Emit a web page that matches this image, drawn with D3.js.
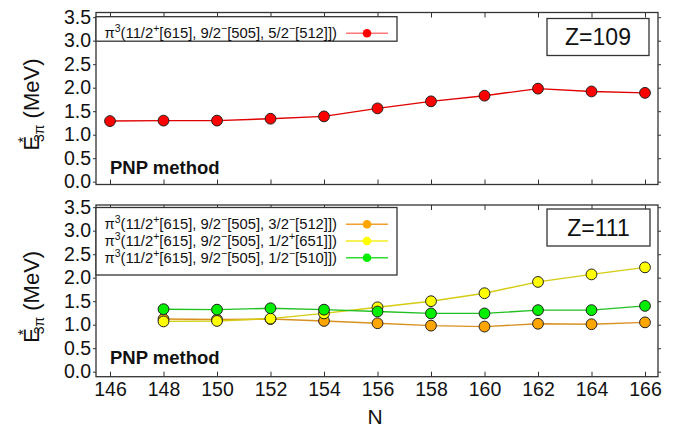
<!DOCTYPE html>
<html>
<head>
<meta charset="utf-8">
<script src="https://cdn.jsdelivr.net/npm/d3@7"></script>
<style>
  html, body { margin: 0; padding: 0; background: #fff; }
  svg { display: block; font-family: "Liberation Sans", Arial, sans-serif; }
</style>
</head>
<body>
<svg id="chart" width="692" height="429"></svg>
<script>
// Neutron numbers on the shared x axis
const neutronTicks = [146, 148, 150, 152, 154, 156, 158, 160, 162, 164, 166];
const energyTicks = [0.0, 0.5, 1.0, 1.5, 2.0, 2.5, 3.0, 3.5];

// Z = 109 three-quasiparticle configuration
const nZ109 = [146, 148, 150, 152, 154, 156, 158, 160, 162, 164, 166];
const eZ109 = [1.29, 1.30, 1.30, 1.34, 1.39, 1.56, 1.71, 1.83, 1.98, 1.92, 1.89];

// Z = 111 three-quasiparticle configurations
const nZ111 = [148, 150, 152, 154, 156, 158, 160, 162, 164, 166];
const eZ111Orange = [1.12, 1.11, 1.12, 1.08, 1.03, 0.98, 0.96, 1.02, 1.01, 1.05];
const eZ111Yellow = [1.07, 1.08, 1.13, 1.24, 1.37, 1.50, 1.67, 1.91, 2.07, 2.22];
const eZ111Green  = [1.33, 1.32, 1.35, 1.32, 1.28, 1.24, 1.24, 1.31, 1.31, 1.40];

const svg = d3.select("#chart");

const frameLeft = 96, frameRight = 658;
const x = d3.scaleLinear().domain([146, 166]).range([110, 645]);

const panels = [
  {
    top: 12.5, bottom: 184.5, y0: 181.7, y35: 17.2,
    zLabel: "Z=109", zBox: [547, 18.5, 102, 37],
    legendBox: [96, 16.7, 301, 24.5],
    series: [
      { n: nZ109, e: eZ109, fill: "#ff0000", line: "#e00000", legLine: "#ff7878",
        label: ["5/2", "−", "[512]"] }
    ],
    showX: false
  },
  {
    top: 205, bottom: 376.7, y0: 371.7, y35: 207.2,
    zLabel: "Z=111", zBox: [547, 209, 103, 37],
    legendBox: [96, 207.5, 301, 67.5],
    series: [
      { n: nZ111, e: eZ111Orange, fill: "#ffa500", line: "#d89020", legLine: "#f0a030",
        label: ["3/2", "−", "[512]"] },
      { n: nZ111, e: eZ111Yellow, fill: "#ffff00", line: "#d4cc10", legLine: "#f2ee20",
        label: ["1/2", "+", "[651]"] },
      { n: nZ111, e: eZ111Green, fill: "#00ee00", line: "#20c020", legLine: "#30dd30",
        label: ["1/2", "−", "[510]"] }
    ],
    showX: true
  }
];

// Legend entry text: π³(11/2⁺[615], 9/2⁻[505], last orbital)
function legendText(sel, parts) {
  const sup = (t) => sel.append("tspan").attr("dy", -6).attr("font-size", "10.5px").text(t);
  const base = (t) => sel.append("tspan").attr("dy", 6).text(t);
  sel.append("tspan").text("π");
  sup("3");
  base("(11/2");
  sup("+");
  base("[615], 9/2");
  sup("−");
  base("[505], " + parts[0]);
  sup(parts[1]);
  base(parts[2] + "])");
}

panels.forEach(p => {
  const y = d3.scaleLinear().domain([0, 3.5]).range([p.y0, p.y35]);
  const g = svg.append("g");

  // left axis: ticks outward with labels
  const left = g.append("g").attr("transform", `translate(${frameLeft},0)`)
    .call(d3.axisLeft(y).tickValues(energyTicks).tickFormat(d3.format(".1f"))
      .tickSize(3).tickPadding(2));
  // right axis: ticks only
  const right = g.append("g").attr("transform", `translate(${frameRight},0)`)
    .call(d3.axisRight(y).tickValues(energyTicks).tickFormat("").tickSize(3));
  // top axis: inward ticks
  const top = g.append("g").attr("transform", `translate(0,${p.top})`)
    .call(d3.axisBottom(x).tickValues(neutronTicks).tickFormat("").tickSize(5));
  // bottom axis: inward ticks
  const bottom = g.append("g").attr("transform", `translate(0,${p.bottom})`)
    .call(d3.axisTop(x).tickValues(neutronTicks).tickFormat("").tickSize(5));

  [left, right, top, bottom].forEach(a => {
    a.select(".domain").remove();
    a.selectAll("line").attr("stroke", "#333").attr("stroke-width", 1);
  });
  left.selectAll("text").attr("font-size", "19.5px").attr("fill", "#111")
    .attr("font-family", "Liberation Sans, Arial, sans-serif");

  if (p.showX) {
    const xl = g.append("g").attr("transform", `translate(0,${p.bottom})`)
      .call(d3.axisBottom(x).tickValues(neutronTicks).tickSize(0).tickPadding(5));
    xl.select(".domain").remove();
    xl.selectAll("text").attr("font-size", "19.5px").attr("fill", "#111")
      .attr("font-family", "Liberation Sans, Arial, sans-serif");
  }

  // frame
  g.append("rect")
    .attr("x", frameLeft).attr("y", p.top)
    .attr("width", frameRight - frameLeft).attr("height", p.bottom - p.top)
    .attr("fill", "none").attr("stroke", "#333").attr("stroke-width", 1.3);

  // y-axis title: E*_3π (MeV)
  const midY = (p.top + p.bottom) / 2 + 6;
  const title = g.append("text")
    .attr("transform", `translate(39,${midY}) rotate(-90)`)
    .attr("text-anchor", "middle").attr("font-size", "22px").attr("fill", "#111");
  title.append("tspan").text("E");
  title.append("tspan").attr("dx", -7).attr("dy", -11).attr("font-size", "15px").text("*");
  title.append("tspan").attr("dx", -5).attr("dy", 16).attr("font-size", "14px").text("3π");
  title.append("tspan").attr("dy", -5).text(" (MeV)");

  // series lines and markers
  const line = d3.line().x(d => x(d[0])).y(d => y(d[1]));
  p.series.forEach(s => {
    const pts = s.n.map((n, i) => [n, s.e[i]]);
    g.append("path").datum(pts).attr("d", line)
      .attr("fill", "none").attr("stroke", s.line).attr("stroke-width", 1.4);
  });
  p.series.forEach(s => {
    const pts = s.n.map((n, i) => [n, s.e[i]]);
    g.selectAll(null).data(pts).enter().append("circle")
      .attr("cx", d => x(d[0])).attr("cy", d => y(d[1])).attr("r", 5.4)
      .attr("fill", s.fill).attr("stroke", "#222").attr("stroke-width", 1);
  });

  // legend
  const [lx, ly, lw, lh] = p.legendBox;
  g.append("rect").attr("x", lx).attr("y", ly).attr("width", lw).attr("height", lh)
    .attr("fill", "#fff").attr("stroke", "#333").attr("stroke-width", 1.3);
  const rowGap = p.series.length > 1 ? 16.7 : 0;
  const firstRow = p.series.length > 1 ? ly + 16.8 : ly + 16.6;
  p.series.forEach((s, i) => {
    const ry = firstRow + i * rowGap;
    const t = g.append("text").attr("x", 337).attr("y", ry + 5)
      .attr("text-anchor", "end").attr("font-size", "14.8px").attr("fill", "#111");
    legendText(t, s.label);
    g.append("line").attr("x1", 346).attr("x2", 388).attr("y1", ry).attr("y2", ry)
      .attr("stroke", s.legLine).attr("stroke-width", 1.5);
    g.append("circle").attr("cx", 367).attr("cy", ry).attr("r", 4.3).attr("fill", s.fill);
  });

  // Z label box
  const [zx, zy, zw, zh] = p.zBox;
  g.append("rect").attr("x", zx).attr("y", zy).attr("width", zw).attr("height", zh)
    .attr("fill", "#fff").attr("stroke", "#333").attr("stroke-width", 1.3);
  g.append("text").attr("x", zx + zw / 2).attr("y", zy + zh / 2 + 8)
    .attr("text-anchor", "middle").attr("font-size", "23px").attr("fill", "#111")
    .text(p.zLabel);

  // method note
  g.append("text").attr("x", 110).attr("y", p.y0 - 8)
    .attr("font-size", "18.5px").attr("font-weight", "bold").attr("fill", "#111")
    .text("PNP method");
});

// x-axis title
svg.append("text").attr("x", 375).attr("y", 424)
  .attr("text-anchor", "middle").attr("font-size", "21px").attr("fill", "#111").text("N");
</script>
</body>
</html>
